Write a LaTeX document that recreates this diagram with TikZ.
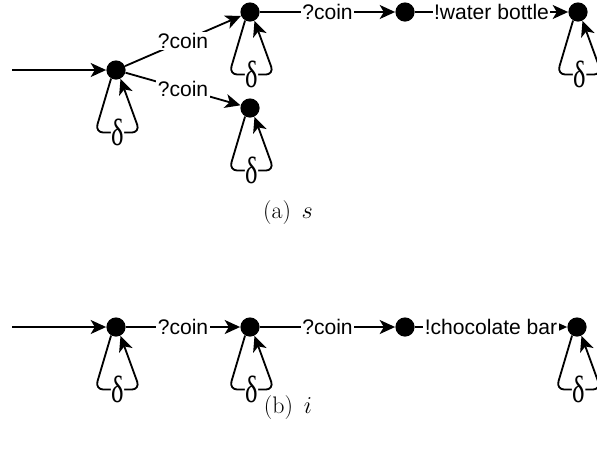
\documentclass[tikz,border=0pt]{standalone}
\usepackage{fontspec}
\newfontfamily\rotulofont{Liberation Sans}
\newfontfamily\deltafont{Liberation Serif}
\usetikzlibrary{arrows.meta,positioning}

\begin{document}
\begin{tikzpicture}[x=0.025cm,y=-0.025cm,
    estado/.style={circle,fill=black,inner sep=0pt,minimum size=0.48cm},
    seta/.style={-{Stealth[length=11pt,width=10pt,inset=3pt]},line width=1.3pt},
    rotulo/.style={fill=white,inner sep=1pt,font=\rotulofont\fontsize{15}{15}\selectfont},
    delta/.style={fill=white,inner sep=0.3pt,font=\deltafont\fontsize{27}{27}\selectfont},
    legenda/.style={font=\fontsize{17}{20}\selectfont}]

    % 0. Moldura da figura (mantem as margens da imagem original)
    \useasboundingbox (0,0) rectangle (597,450);

    % Laço delta embaixo de um estado (sai pela esquerda, volta pela direita)
    \def\laco#1{\draw[seta,rounded corners=6pt] (#1.240) -- ++(-16,54) -- ++(45,0) node[midway,delta] {\scalebox{0.7}[1]{δ}} -- (#1.297);}

    % 1. Especificação s (parte de cima)
    \coordinate (ini-s) at (12,70);
    \node[estado] (s0) at (116,70) {};
    \node[estado] (s1) at (250,12) {};
    \node[estado] (s2) at (250,108) {};
    \node[estado] (s3) at (405,12) {};
    \node[estado] (s4) at (578,12) {};

    \draw[seta] (ini-s) -- (s0);
    \draw[seta] (s0) -- node[rotulo] {?coin} (s1);
    \draw[seta] (s0) -- node[rotulo] {?coin} (s2);
    \draw[seta] (s1) -- node[rotulo] {?coin} (s3);
    \draw[seta] (s3) -- node[rotulo] {!water bottle} (s4);

    \laco{s0} \laco{s1} \laco{s2} \laco{s4}

    \node[legenda] (leg-s) at (288,213) {(a)\hspace{0.45em}$s$};

    % 2. Implementação i (parte de baixo)
    \coordinate (ini-i) at (12,327);
    \node[estado] (i0) at (116,327) {};
    \node[estado] (i1) at (250,327) {};
    \node[estado] (i2) at (405,327) {};
    \node[estado] (i3) at (577,327) {};

    \draw[seta] (ini-i) -- (i0);
    \draw[seta] (i0) -- node[rotulo] {?coin} (i1);
    \draw[seta] (i1) -- node[rotulo] {?coin} (i2);
    \draw[seta] (i2) -- node[rotulo] {!chocolate bar} (i3);

    \laco{i0} \laco{i1} \laco{i3}

    \node[legenda] (leg-i) at (288,408) {(b)\hspace{0.45em}$i$};

\end{tikzpicture}
\end{document}
